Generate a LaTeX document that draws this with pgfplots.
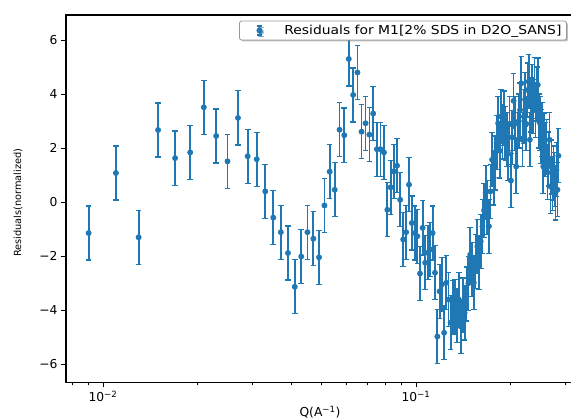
\documentclass[border=0pt]{standalone}
\usepackage{fontspec}
\setmainfont{DejaVu Sans}
\newfontfamily\legfont[FakeStretch=1.13]{DejaVu Sans}
\usepackage{pgfplots}
\usepackage{pgfplotstable}
\pgfplotsset{compat=1.18}
\usetikzlibrary{shadows}
\definecolor{mplblue}{HTML}{1F77B4}
\pgfplotstableread{
q y
0.009 -1.14
0.011 1.08
0.013 -1.30
0.015 2.67
0.017 1.63
0.019 1.84
0.021 3.51
0.023 2.45
0.025 1.51
0.027 3.12
0.029 1.70
0.031 1.59
0.033 0.40
0.035 -0.57
0.037 -1.11
0.039 -1.88
0.041 -3.13
0.043 -2.01
0.045 -1.11
0.047 -1.35
0.049 -2.04
0.051 -0.12
0.053 1.13
0.055 0.46
0.057 2.68
0.059 2.48
0.061 5.30
0.063 3.97
0.065 4.80
0.067 2.61
0.069 2.92
0.071 2.50
0.073 3.28
0.075 1.96
0.077 1.96
0.079 1.84
0.081 -0.28
0.083 0.55
0.085 1.14
0.087 1.35
0.089 0.09
0.091 -1.38
0.093 -1.11
0.095 0.65
0.097 -0.77
0.099 -1.14
0.101 -1.26
0.103 -2.64
0.105 -0.95
0.107 -2.24
0.109 -1.87
0.111 -1.75
0.113 -1.14
0.115 -2.61
0.117 -4.97
0.119 -3.30
0.121 -3.04
0.123 -4.83
0.125 -2.98
0.127 -3.60
0.129 -4.46
0.131 -3.90
0.133 -3.85
0.135 -4.20
0.137 -3.60
0.139 -4.60
0.141 -3.80
0.143 -4.10
0.145 -3.40
0.147 -3.00
0.149 -1.94
0.151 -2.50
0.153 -2.98
0.155 -2.20
0.157 -1.63
0.159 -2.24
0.161 -1.45
0.163 -0.90
0.165 -0.30
0.167 0.36
0.169 -0.20
0.171 -0.89
0.173 0.40
0.175 1.57
0.177 0.90
0.179 1.45
0.181 2.20
0.183 2.92
0.185 1.90
0.187 3.17
0.189 2.60
0.191 3.11
0.193 2.55
0.195 2.31
0.197 1.80
0.199 2.90
0.201 0.80
0.203 2.40
0.205 3.75
0.207 2.90
0.209 1.32
0.211 2.31
0.213 3.00
0.215 3.41
0.217 4.40
0.219 2.31
0.221 3.17
0.223 3.80
0.225 2.90
0.227 4.15
0.229 4.46
0.231 2.31
0.233 3.60
0.235 4.10
0.237 3.53
0.239 4.35
0.241 3.40
0.243 4.00
0.245 4.34
0.247 3.00
0.249 2.92
0.251 2.43
0.253 2.70
0.255 1.32
0.257 2.30
0.259 1.94
0.261 2.06
0.263 1.10
0.265 1.60
0.267 2.31
0.269 0.58
0.271 1.30
0.273 0.70
0.275 1.08
0.277 0.83
0.279 0.34
0.281 1.20
0.283 0.46
0.285 1.72
}\resdata
\begin{document}
\begin{tikzpicture}
\begin{axis}[
  at={(0pt,0pt)}, anchor=south west,
  scale only axis, width=508pt, height=367.3pt,
  xmode=log, xmin=0.00762, xmax=0.3197, ymin=-6.663, ymax=6.926,
  xtick={0.01,0.1}, xticklabels={10\textsuperscript{−2},10\textsuperscript{−1}},
  minor xtick={0.008,0.009,0.02,0.03,0.04,0.05,0.06,0.07,0.08,0.09,0.2,0.3},
  ytick={-6,-4,-2,0,2,4,6}, yticklabels={−6,−4,−2,0,2,4,6},
  tick align=outside, xtick pos=bottom, ytick pos=left,
  major tick length=5pt, minor tick length=3pt,
  tick style={black, line width=0.9pt},
  axis line style={line width=1.1pt, black},
  tick label style={font=\fontsize{12.3}{14}\selectfont},
  xlabel={Q(A\textsuperscript{−1})},
  ylabel={Residuals(normalized)},
  xlabel style={at={(axis description cs:0.5,-0.0645)}, anchor=north, font=\fontsize{12.3}{14}\selectfont, inner sep=0pt},
  ylabel style={at={(axis description cs:-0.0945,0.489)}, anchor=center, font=\fontsize{9.8}{11}\selectfont, inner sep=0pt},
  legend style={at={(axis description cs:0.986,0.9845)}, anchor=north east, draw=gray!80, rounded corners=2pt, fill=white, font=\legfont\fontsize{12.3}{14}\selectfont, inner xsep=3pt, inner ysep=2pt, line width=0.8pt, drop shadow={shadow xshift=1.5pt, shadow yshift=-1.5pt, fill=gray, opacity=0.5}},
  legend cell align=left,
  legend image code/.code={
    \path (0pt,0pt) (38pt,0pt);
    \draw[mplblue, line width=1.8pt] (16pt,-4.5pt) -- (16pt,4.5pt);
    \draw[mplblue, line width=1.3pt] (13.3pt,-4.5pt) -- (18.7pt,-4.5pt);
    \draw[mplblue, line width=1.3pt] (13.3pt,4.5pt) -- (18.7pt,4.5pt);
    \fill[mplblue] (16pt,0pt) circle (2.0pt);
  },
]
\addplot[mplblue, line width=1.8pt, mark=*, mark size=2.0pt, only marks,
  error bars/.cd, y dir=both, y fixed=1,
  error bar style={line width=1.8pt, mplblue},
  error mark options={rotate=90, mark size=2.8pt, line width=1.3pt, mplblue}]
  table[x=q,y=y]{\resdata};
\addlegendentry{Residuals for M1[2\% SDS in D2O\_SANS]}
\end{axis}
\pgfresetboundingbox
\useasboundingbox (-66pt,-36.7pt) rectangle (505pt,382.3pt);
\end{tikzpicture}
\end{document}
